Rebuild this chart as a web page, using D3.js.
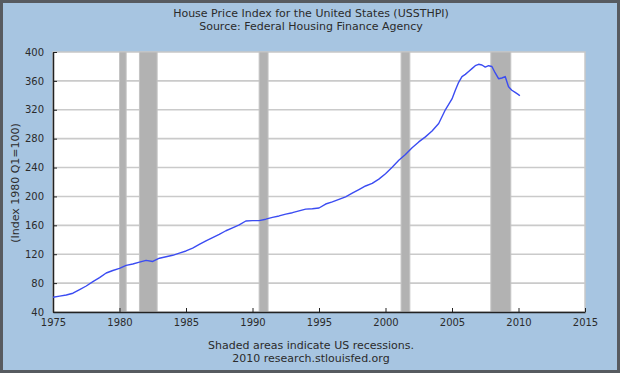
<!doctype html>
<html>
  <head>
    <meta charset="UTF-8"/>
    <title>House Price Index</title>
    <script src="https://d3js.org/d3.v7.min.js"></script>
    <style>
      body { margin: 0; padding: 0; }
      svg { display: block; }
      text { font-family: "DejaVu Sans", Verdana, sans-serif; fill: #2b2b2b; }
    </style>
  </head>
  <body>
    <section id="app_screen"></section>
    <script>
      // quarterly-ish readings (decimal year, index)
      const years = [1975.0, 1975.5, 1976.0, 1976.5, 1977.0, 1977.5, 1978.0, 1978.5, 1979.0, 1979.5,
        1980.0, 1980.5, 1981.0, 1981.5, 1982.0, 1982.5, 1983.0, 1983.5, 1984.0, 1984.5,
        1985.0, 1985.5, 1986.0, 1986.5, 1987.0, 1987.5, 1988.0, 1988.5, 1989.0, 1989.5,
        1990.0, 1990.5, 1991.0, 1991.5, 1992.0, 1992.5, 1993.0, 1993.5, 1994.0, 1994.5,
        1995.0, 1995.5, 1996.0, 1996.5, 1997.0, 1997.5, 1998.0, 1998.5, 1999.0, 1999.5,
        2000.0, 2000.5, 2001.0, 2001.5, 2002.0, 2002.5, 2003.0, 2003.5, 2004.0, 2004.5,
        2005.0, 2005.25, 2005.5, 2005.75, 2006.0, 2006.25, 2006.5, 2006.75, 2007.0, 2007.25,
        2007.5, 2007.75, 2008.0, 2008.25, 2008.5, 2008.75, 2009.0, 2009.25, 2009.5, 2009.75,
        2010.0, 2010.1];
      const hpi = [60.4, 62, 63.5, 66, 71, 76, 82, 87.5, 94, 97.5,
        100.5, 104.5, 106.5, 109, 111.5, 110, 114.5, 116.5, 118.5, 121.5,
        124.5, 128.5, 133.5, 138.5, 143, 147.5, 152.5, 156.5, 160.5, 166,
        166.5, 166.5, 168.5, 171, 173, 175.5, 177.5, 180, 182.5, 183,
        184, 189.5, 192.5, 196, 199.5, 204.5, 209.5, 214.5, 218, 224,
        231.5, 240.5, 250, 258, 267.5, 275.5, 282.5, 290.5, 301, 320,
        335, 347, 358, 366, 369, 373, 377, 381, 383, 382,
        379, 381, 380, 371, 363, 364, 366, 352, 347, 344,
        341, 339.5];

      // NBER recessions
      const recStart = [1980.0, 1981.5, 1990.5, 2001.17, 2007.92];
      const recEnd = [1980.5, 1982.83, 1991.17, 2001.83, 2009.42];

      const xTicks = [1975, 1980, 1985, 1990, 1995, 2000, 2005, 2010, 2015];
      const yTicks = [40, 80, 120, 160, 200, 240, 280, 320, 360, 400];

      const titleLines = ["House Price Index for the United States (USSTHPI)",
        "Source: Federal Housing Finance Agency"];
      const footLines = ["Shaded areas indicate US recessions.",
        "2010 research.stlouisfed.org"];

      const W = 620, H = 373;
      const L = 53, R = 585, T = 52, B = 312;

      const svg = d3.select("#app_screen").append("svg")
        .attr("width", W).attr("height", H);

      svg.append("rect")
        .attr("x", 1.5).attr("y", 1.5).attr("width", W - 3).attr("height", H - 3)
        .attr("fill", "#a7c5e1").attr("stroke", "#575b60").attr("stroke-width", 3);

      const x = d3.scaleLinear().domain([1975, 2015]).range([L, R]);
      const y = d3.scaleLinear().domain([40, 400]).range([B, T]);

      svg.append("rect")
        .attr("x", L).attr("y", T).attr("width", R - L).attr("height", B - T)
        .attr("fill", "#fff").attr("stroke", "#c8c8c8").attr("stroke-width", 1.5);

      // grid
      svg.append("g").selectAll("line").data(yTicks.slice(1, -1)).join("line")
        .attr("x1", L).attr("x2", R)
        .attr("y1", d => y(d)).attr("y2", d => y(d))
        .attr("stroke", "#cacaca").attr("stroke-width", 1.6);

      // recessions
      svg.append("g").selectAll("rect").data(recStart).join("rect")
        .attr("x", d => x(d))
        .attr("width", (d, i) => x(recEnd[i]) - x(d))
        .attr("y", T).attr("height", B - T)
        .attr("fill", "#b2b2b2").attr("stroke", "#c4c4c4").attr("stroke-width", 1);

      // axes
      const xAxis = svg.append("g").attr("transform", `translate(0,${B})`)
        .call(d3.axisBottom(x).tickValues(xTicks).tickFormat(d3.format("d")).tickSizeInner(-4).tickSizeOuter(0).tickPadding(7));
      const yAxis = svg.append("g").attr("transform", `translate(${L},0)`)
        .call(d3.axisLeft(y).tickValues(yTicks).tickSizeInner(-4).tickSizeOuter(0).tickPadding(9));
      [xAxis, yAxis].forEach(a => {
        a.select(".domain").attr("stroke", "#222").attr("stroke-width", 1.5);
        a.selectAll(".tick line").attr("stroke", "#222");
        a.selectAll(".tick text").attr("font-size", 10).attr("fill", "#2b2b2b")
          .style("font-family", "'DejaVu Sans', Verdana, sans-serif");
      });

      // series
      const pts = years.map((yr, i) => [yr, hpi[i]]);
      svg.append("path").datum(pts)
        .attr("fill", "none").attr("stroke", "#3b4cf2").attr("stroke-width", 1.4)
        .attr("stroke-linejoin", "round")
        .attr("d", d3.line().x(d => x(d[0])).y(d => y(d[1])));

      // texts
      svg.append("g").selectAll("text").data(titleLines).join("text")
        .attr("x", 311).attr("y", (d, i) => 17 + i * 13)
        .attr("text-anchor", "middle").attr("font-size", 11).text(d => d);
      svg.append("g").selectAll("text").data(footLines).join("text")
        .attr("x", 311).attr("y", (d, i) => 349 + i * 13)
        .attr("text-anchor", "middle").attr("font-size", 11).text(d => d);
      svg.append("text")
        .attr("transform", "translate(19,183) rotate(-90)")
        .attr("text-anchor", "middle").attr("font-size", 11)
        .text("(Index 1980 Q1=100)");
    </script>
  </body>
</html>
